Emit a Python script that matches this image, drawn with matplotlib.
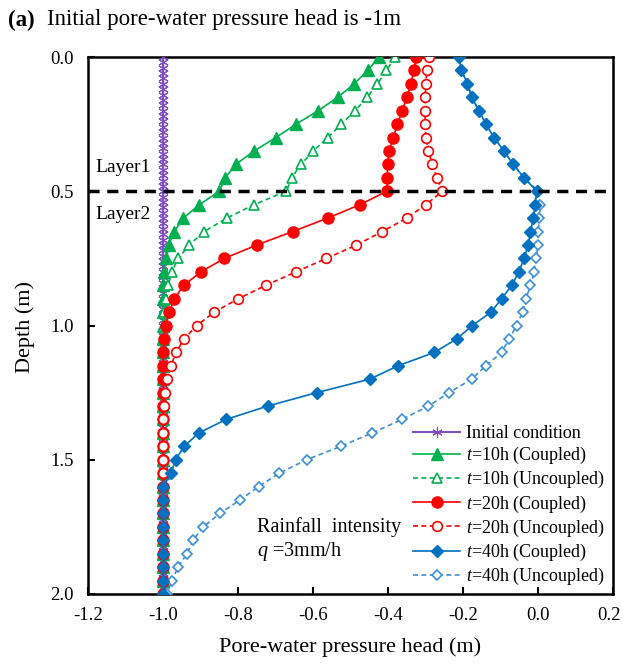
import numpy as np
import matplotlib
matplotlib.use("Agg")
import matplotlib.pyplot as plt
import matplotlib.transforms as mtransforms

plt.rcParams["font.family"] = ["Liberation Serif", "DejaVu Serif"]
plt.rcParams["mathtext.fontset"] = "custom"
plt.rcParams["mathtext.rm"] = "Liberation Serif"
plt.rcParams["mathtext.it"] = "Liberation Serif:italic"
plt.rcParams["axes.unicode_minus"] = False

# profundidad de los nodos (m)
depth = [0.00, 0.05, 0.10, 0.15, 0.20, 0.25, 0.30, 0.35, 0.40, 0.45,
         0.50, 0.55, 0.60, 0.65, 0.70, 0.75, 0.80, 0.85, 0.90, 0.95,
         1.00, 1.05, 1.10, 1.15, 1.20, 1.25, 1.30, 1.35, 1.40, 1.45,
         1.50, 1.55, 1.60, 1.65, 1.70, 1.75, 1.80, 1.85, 1.90, 1.95, 2.00]

init_depth = np.round(np.arange(0, 2.0001, 0.02), 2)
init_head = [-1.0] * len(init_depth)

h10_coupled = [-0.424, -0.454, -0.490, -0.534, -0.586, -0.645, -0.699, -0.757, -0.806, -0.834,
               -0.850, -0.903, -0.946, -0.970, -0.984, -0.992, -0.997, -0.999] + [-1.0] * 23
h10_uncoupled = [-0.381, -0.404, -0.428, -0.455, -0.488, -0.524, -0.561, -0.599, -0.632, -0.657,
                 -0.671, -0.757, -0.830, -0.890, -0.930, -0.959, -0.977, -0.986, -0.992, -0.996,
                 -0.998] + [-1.0] * 20
h20_coupled = [-0.325, -0.331, -0.339, -0.350, -0.362, -0.375, -0.386, -0.397, -0.401, -0.402,
               -0.403, -0.475, -0.561, -0.654, -0.750, -0.836, -0.899, -0.944, -0.970, -0.983,
               -0.993, -0.997, -0.999] + [-1.0] * 18
h20_uncoupled = [-0.291, -0.297, -0.299, -0.301, -0.301, -0.301, -0.299, -0.292, -0.282, -0.270,
                 -0.255, -0.299, -0.350, -0.415, -0.484, -0.564, -0.645, -0.725, -0.799, -0.863,
                 -0.910, -0.944, -0.965, -0.979, -0.989, -0.994, -0.997, -0.999] + [-1.0] * 13
h40_coupled = [-0.211, -0.204, -0.188, -0.177, -0.157, -0.139, -0.117, -0.091, -0.066, -0.037,
               -0.003, -0.008, -0.012, -0.020, -0.026, -0.037, -0.051, -0.070, -0.097, -0.125,
               -0.175, -0.217, -0.276, -0.373, -0.449, -0.590, -0.721, -0.832, -0.904, -0.944,
               -0.966, -0.979, -0.999] + [-1.0] * 8
h40_uncoupled = [-0.211, -0.204, -0.188, -0.177, -0.157, -0.139, -0.117, -0.091, -0.066, -0.037,
                 0.001, 0.005, 0.004, 0.001, 0.001, -0.006, -0.010, -0.020, -0.032, -0.041,
                 -0.057, -0.077, -0.097, -0.139, -0.177, -0.237, -0.292, -0.363, -0.442, -0.526,
                 -0.617, -0.690, -0.745, -0.795, -0.848, -0.893, -0.920, -0.936, -0.960, -0.976,
                 -0.990]

layer_boundary = 0.5
xticks = [-1.2, -1.0, -0.8, -0.6, -0.4, -0.2, 0.0, 0.2]
yticks = [0.0, 0.5, 1.0, 1.5, 2.0]

verde = "#00B050"
rojo = "#FF0000"
azul = "#0070C0"
azul_claro = "#3C8FD8"
morado = "#7F4FC0"

fig = plt.figure(figsize=(6.23, 6.65), dpi=100)
ax = fig.add_axes([88 / 623, 1 - 594 / 665, 525 / 623, 537 / 665])

ax.plot(init_head, init_depth, color=morado, lw=1.5, marker=(6, 2, 0), ms=7.5,
        mew=0.8, label="Initial condition", zorder=3)
ax.plot(h10_coupled, depth, color=verde, lw=1.2, marker="^", ms=8,
        label=r"$t$=10h (Coupled)", zorder=4)
ax.plot(h10_uncoupled, depth, color=verde, lw=1.2, ls=(0, (3, 2)), marker="^", ms=7,
        mfc="white", mew=1.2, label=r"$t$=10h (Uncoupled)", zorder=4)
ax.plot(h20_coupled, depth, color=rojo, lw=1.2, marker="o", ms=8,
        label=r"$t$=20h (Coupled)", zorder=4)
ax.plot(h20_uncoupled, depth, color=rojo, lw=1.2, ls=(0, (3, 2)), marker="o", ms=7,
        mfc="white", mew=1.2, label=r"$t$=20h (Uncoupled)", zorder=4)
ax.plot(h40_coupled, depth, color=azul, lw=1.2, marker="D", ms=6,
        label=r"$t$=40h (Coupled)", zorder=5)
ax.plot(h40_uncoupled, depth, color=azul_claro, lw=1.2, ls=(0, (3, 2)), marker="D", ms=5.5,
        mfc="white", mew=1.2, label=r"$t$=40h (Uncoupled)", zorder=4)

ax.axhline(layer_boundary, color="black", lw=2.5, ls=(0, (3.2, 2.2)), zorder=6)

ax.set_xlim(-1.2, 0.2)
ax.set_ylim(2.0, 0.0)
ax.set_xticks(xticks)
ax.set_xticklabels([f"{v:.1f}" for v in xticks])
ax.set_yticks(yticks)
ax.set_yticklabels([f"{v:.1f}" for v in yticks])
ax.tick_params(direction="in", length=5, width=1.5, labelsize=13.5)
ax.tick_params(axis="x", pad=9)
ax.tick_params(axis="y", pad=10)
for s in ax.spines.values():
    s.set_linewidth(1.8)

# la ultima etiqueta queda pegada al borde, se corre un poco
ultima = ax.get_xticklabels()[-1]
ultima.set_transform(ultima.get_transform() +
                     mtransforms.ScaledTranslation(-4 / 100, 0, fig.dpi_scale_trans))

ax.set_xlabel("Pore-water pressure head (m)", fontsize=16, labelpad=10)
fig.text(25 / 623, 1 - 327 / 665, "Depth (m)", rotation=90, fontsize=16,
         ha="center", va="center")

fig.text(8 / 623, 1 - 20 / 665, "(a)", fontsize=16.5, fontweight="bold", va="center")
fig.text(47 / 623, 1 - 20 / 665, "Initial pore-water pressure head is -1m", fontsize=16.5,
         va="center")

ax.text(-1.18, 0.413, "Layer1", fontsize=14, va="center")
ax.text(-1.18, 0.585, "Layer2", fontsize=14, va="center")
ax.text(-0.749, 1.75, "Rainfall  intensity", fontsize=14.5, va="center")
ax.text(-0.749, 1.84, r"$q$ =3mm/h", fontsize=14.5, va="center")

ax.legend(loc="lower right", bbox_to_anchor=(1.008, -0.011), frameon=False, fontsize=13,
          handlelength=2.6, handletextpad=0.3, labelspacing=0.17, borderpad=0.2)

fig.savefig("out.png", dpi=100)
